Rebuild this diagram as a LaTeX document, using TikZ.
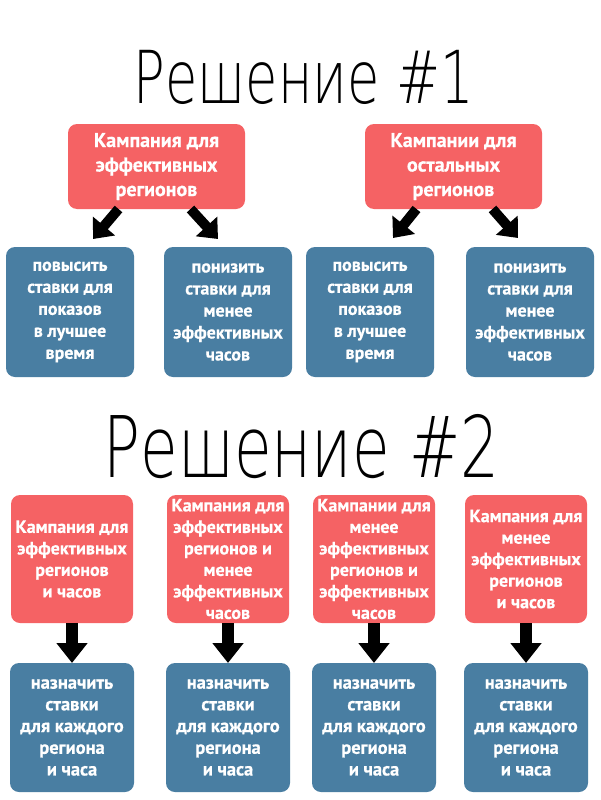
\documentclass[tikz,border=0pt]{standalone}
\usepackage{fontspec}
\setmainfont{PT Sans}[BoldFeatures={FakeBold=0.6}]
\newfontfamily\titlefont{DejaVuSans-ExtraLight.ttf}[FakeStretch=0.72]
\usetikzlibrary{positioning,arrows.meta}
\definecolor{campred}{RGB}{245,98,100}
\definecolor{rateblue}{RGB}{73,126,162}

\begin{document}
\begin{tikzpicture}[
x=1pt, y=-1pt,
redbox/.style = {fill=campred, rounded corners=9pt, text=white,
                 font=\bfseries\fontsize{18}{21.5}\selectfont,
                 align=center, inner sep=0pt, outer sep=0pt,
                 minimum width=122pt, minimum height=128pt},
bluebox/.style = {fill=rateblue, rounded corners=9pt, text=white,
                  font=\bfseries\fontsize{18.5}{21.7}\selectfont,
                  align=center, inner sep=0pt, outer sep=0pt,
                  minimum width=124pt, minimum height=129pt},
bigred/.style = {redbox, font=\bfseries\fontsize{20}{24.5}\selectfont,
                 minimum width=177pt, minimum height=85pt},
smallblue/.style = {bluebox, font=\bfseries\fontsize{18}{22}\selectfont,
                    minimum width=128pt, minimum height=130pt},
fatslant/.style = {line width=10pt, -{Triangle[width=28pt,length=17pt]}},
fatdown/.style = {line width=12pt, -{Triangle[width=30pt,length=20pt]}},
]
        \useasboundingbox (0,0) rectangle (600,800);
        \node (sol1) [anchor=base, font=\titlefont\fontsize{73}{80}\selectfont]
                     at (303.5,103) {Решение \#1};
        \node (camp1) [bigred] at (156.5,166.5)
                      {Кампания для\\эффективных\\регионов};
        \node (camp2) [bigred, right=120pt of camp1]
                      {Кампании для\\остальных\\регионов};
        \node (rate1) [smallblue, below=38pt of camp1, xshift=-86.5pt]
                      {повысить\\ставки для\\показов\\в лучшее\\время};
        \node (rate2) [smallblue, right=30pt of rate1]
                      {понизить\\ставки для\\менее\\эффективных\\часов};
        \node (rate3) [smallblue, right=14pt of rate2]
                      {повысить\\ставки для\\показов\\в лучшее\\время};
        \node (rate4) [smallblue, right=32pt of rate3]
                      {понизить\\ставки для\\менее\\эффективных\\часов};
        \draw[fatslant] ([xshift=-38pt]camp1.south) -- ([xshift=23pt,yshift=8pt]rate1.north);
        \draw[fatslant] ([xshift=34pt]camp1.south) -- ([xshift=-10pt,yshift=8pt]rate2.north);
        \draw[fatslant] ([xshift=-37pt]camp2.south) -- ([xshift=23pt,yshift=9pt]rate3.north);
        \draw[fatslant] ([xshift=39pt]camp2.south) -- ([xshift=-12pt,yshift=9pt]rate4.north);
        % second solution
        \node (sol2) [anchor=base, font=\titlefont\fontsize{85}{90}\selectfont]
                     at (301.5,477) {Решение \#2};
        \node (mix1) [redbox] at (72,559)
                     {Кампания для\\эффективных\\регионов\\и часов};
        \node (mix2) [redbox, right=34pt of mix1]
                     {Кампания для\\эффективных\\регионов и\\менее\\эффективных\\часов};
        \node (mix3) [redbox, right=24pt of mix2]
                     {Кампании для\\менее\\эффективных\\регионов и\\эффективных\\часов};
        \node (mix4) [redbox, right=30pt of mix3]
                     {Кампания для\\менее\\эффективных\\регионов\\и часов};
        \node (set1) [bluebox, below=40pt of mix1]
                     {назначить\\ставки\\для каждого\\региона\\и часа};
        \node (set2) [bluebox, below=40pt of mix2]
                     {назначить\\ставки\\для каждого\\региона\\и часа};
        \node (set3) [bluebox, below=40pt of mix3]
                     {назначить\\ставки\\для каждого\\региона\\и часа};
        \node (set4) [bluebox, below=40pt of mix4]
                     {назначить\\ставки\\для каждого\\региона\\и часа};
        \draw[fatdown] (mix1) -- (set1);
        \draw[fatdown] (mix2) -- (set2);
        \draw[fatdown] (mix3) -- (set3);
        \draw[fatdown] (mix4) -- (set4);
\end{tikzpicture}
\end{document}
